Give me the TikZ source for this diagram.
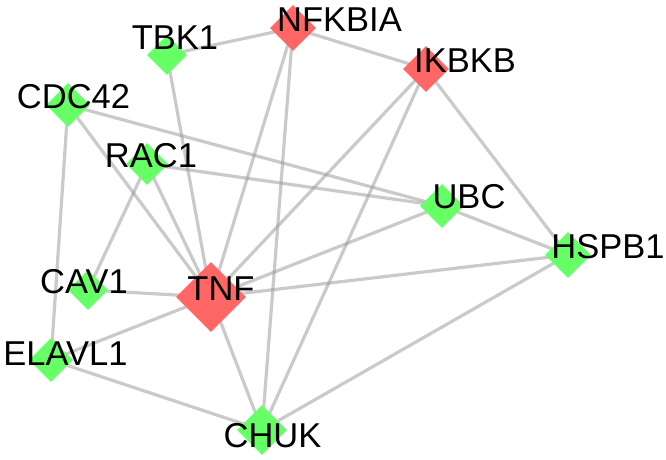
\documentclass[tikz,border=0pt]{standalone}
\usepackage{fontspec}
\setmainfont{Liberation Sans}
\usetikzlibrary{shapes.geometric,backgrounds}
\definecolor{nred}{RGB}{255,102,102}
\definecolor{ngreen}{RGB}{102,255,102}
\definecolor{edgec}{RGB}{150,150,150}
\begin{document}
\begin{tikzpicture}[x=1pt,y=-1pt,
  gene/.style={diamond,aspect=1,inner sep=0pt,draw=none,minimum width=#1,minimum height=#1},
  upg/.style={gene=#1,fill=nred},
  dng/.style={gene=#1,fill=ngreen},
  lbl/.style={anchor=base,inner sep=0pt,font=\fontsize{34.5}{40}\selectfont},
  edge/.style={draw=edgec,opacity=0.5,line width=3.2pt}]
\useasboundingbox (0,0) rectangle (666,460);
\node[dng=40pt] (TBK1) at (167,55) {};
\node[upg=46pt] (NFKBIA) at (293,28) {};
\node[upg=46pt] (IKBKB) at (426,69) {};
\node[dng=44pt] (CDC42) at (68,105) {};
\node[dng=42pt] (RAC1) at (147,164) {};
\node[dng=44pt] (UBC) at (442,206) {};
\node[dng=46pt] (HSPB1) at (568,255) {};
\node[dng=40pt] (CAV1) at (88,290) {};
\node[upg=70pt] (TNF) at (211,297) {};
\node[dng=44pt] (ELAVL1) at (51,360) {};
\node[dng=50pt] (CHUK) at (262,430) {};
\begin{scope}[on background layer]
\foreach \a/\b in {TBK1/NFKBIA,TBK1/TNF,NFKBIA/IKBKB,NFKBIA/TNF,NFKBIA/CHUK,
  IKBKB/TNF,IKBKB/CHUK,IKBKB/HSPB1,CDC42/UBC,CDC42/TNF,CDC42/ELAVL1,
  RAC1/UBC,RAC1/TNF,RAC1/CAV1,UBC/TNF,UBC/HSPB1,HSPB1/TNF,HSPB1/CHUK,
  CAV1/TNF,ELAVL1/TNF,ELAVL1/CHUK,TNF/CHUK}
  \draw[edge] (\a.center) -- (\b.center);
\end{scope}
\node[lbl] (tTBK1) at (175,50) {TBK1};
\node[lbl] (tNFKBIA) at (339.5,32) {NFKBIA};
\node[lbl] (tIKBKB) at (465,73) {IKBKB};
\node[lbl] (tCDC42) at (73.5,108) {CDC42};
\node[lbl] (tRAC1) at (151,167) {RAC1};
\node[lbl] (tUBC) at (469,208) {UBC};
\node[lbl] (tHSPB1) at (608,258) {HSPB1};
\node[lbl] (tCAV1) at (84,293) {CAV1};
\node[lbl] (tTNF) at (221,300) {TNF};
\node[lbl] (tELAVL1) at (65.5,365) {ELAVL1};
\node[lbl] (tCHUK) at (272.5,447) {CHUK};
\end{tikzpicture}
\end{document}
